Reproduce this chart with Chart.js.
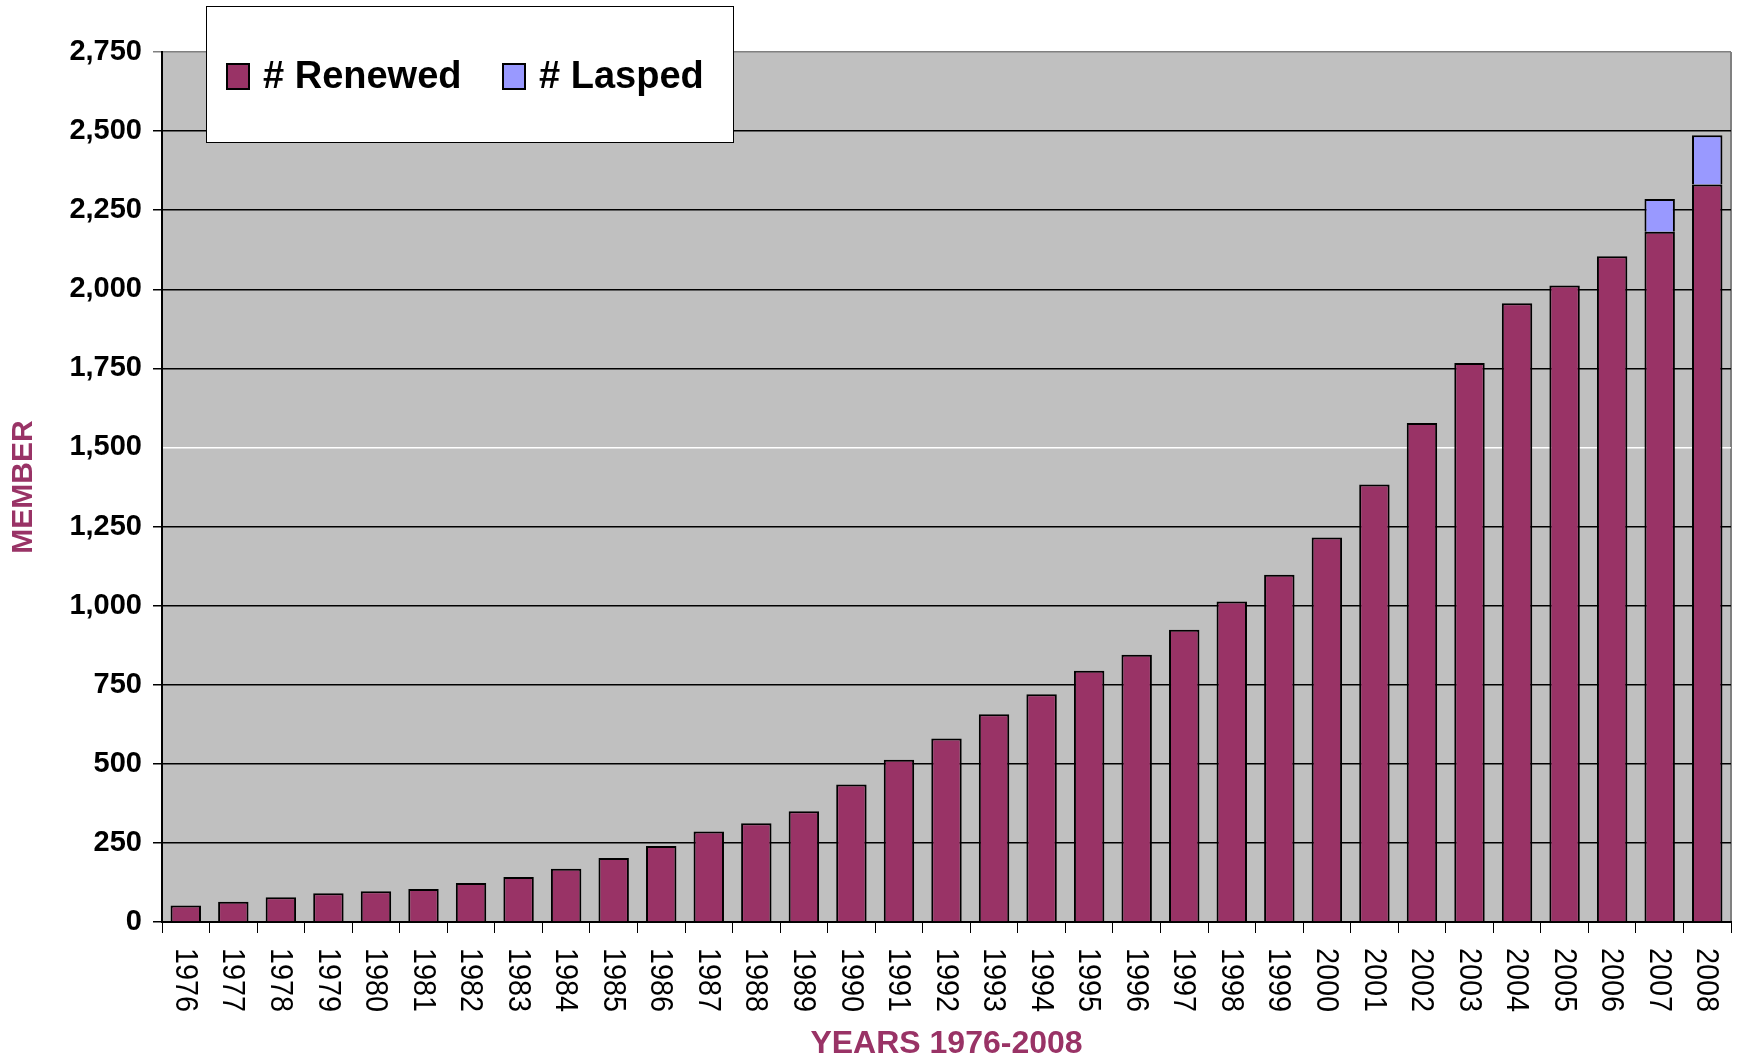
<!DOCTYPE html>
<html>
<head>
<meta charset="utf-8">
<script src="https://cdn.jsdelivr.net/npm/chart.js@4.4.1/dist/chart.umd.min.js"></script>
<style>
  html, body { margin: 0; padding: 0; background: #fff; }
  #wrap { width: 1742px; height: 1062px; }
</style>
</head>
<body>
<div id="wrap"><canvas id="chart1"></canvas></div>
<script>
// data
const years = ['1976', '1977', '1978', '1979', '1980', '1981', '1982', '1983', '1984', '1985',
    '1986', '1987', '1988', '1989', '1990', '1991', '1992', '1993', '1994', '1995',
    '1996', '1997', '1998', '1999', '2000', '2001', '2002', '2003', '2004', '2005',
    '2006', '2007', '2008'];
const renewed = [52, 64, 78, 91, 97, 104, 123, 142, 168, 202,
    240, 286, 312, 350, 435, 513, 580, 657, 720, 794,
    845, 924, 1013, 1098, 1215, 1383, 1577, 1767, 1956, 2012,
    2104, 2182, 2331];
const lapsed = [null, null, null, null, null, null, null, null, null, null,
    null, null, null, null, null, null, null, null, null, null,
    null, null, null, null, null, null, null, null, null, null,
    null, 103, 156];
const yMax = 2750;
const yStep = 250;

const FONT = '"Liberation Sans", Arial, sans-serif';
const TITLE_COLOR = '#993366';

// grey plot area + right frame
const plotBg = {
    id: 'plotBg',
    beforeDraw(chart) {
        const { ctx, chartArea: a } = chart;
        ctx.save();
        ctx.fillStyle = '#c0c0c0';
        ctx.fillRect(a.left, a.top, a.right - a.left, a.bottom - a.top);
        ctx.strokeStyle = '#808080';
        ctx.lineWidth = 2;
        ctx.beginPath();
        ctx.moveTo(a.right, a.top);
        ctx.lineTo(a.right, a.bottom);
        ctx.stroke();
        ctx.restore();
    }
};

// year labels, reading top to bottom (slightly squeezed like the original)
const yearLabels = {
    id: 'yearLabels',
    afterDraw(chart) {
        const { ctx } = chart;
        const x = chart.scales.x;
        ctx.save();
        ctx.font = '32px ' + FONT;
        ctx.fillStyle = '#000';
        ctx.textAlign = 'left';
        ctx.textBaseline = 'middle';
        chart.data.labels.forEach((lbl, i) => {
            const px = x.getPixelForTick(i);
            ctx.save();
            ctx.translate(px - 1, x.top + 26);
            ctx.rotate(Math.PI / 2);
            ctx.scale(0.9, 1);
            ctx.fillText(lbl, 0, 0);
            ctx.restore();
        });
        ctx.restore();
    }
};

// boxed legend sitting over the top of the plot
const boxLegend = {
    id: 'boxLegend',
    afterDraw(chart) {
        const { ctx } = chart;
        ctx.save();
        ctx.fillStyle = '#fff';
        ctx.fillRect(206, 6, 527, 136);
        ctx.strokeStyle = '#000';
        ctx.lineWidth = 1;
        ctx.strokeRect(206.5, 6.5, 527, 136);

        const swatchX = [227, 503];
        ctx.font = 'bold 38px ' + FONT;
        ctx.textBaseline = 'middle';
        ctx.textAlign = 'left';
        chart.data.datasets.forEach((ds, i) => {
            ctx.fillStyle = ds.backgroundColor;
            ctx.fillRect(swatchX[i], 64, 22, 25);
            ctx.lineWidth = 2;
            ctx.strokeStyle = '#000';
            ctx.strokeRect(swatchX[i], 64, 22, 25);
            ctx.fillStyle = '#000';
            ctx.fillText(ds.label, swatchX[i] + 36, 78);
        });
        ctx.restore();
    }
};

function gridColor(ctx) {
    const v = ctx.tick ? ctx.tick.value : null;
    if (v === yMax) return '#808080';
    if (v === 1500) return '#ffffff';
    return '#000000';
}

const ctx = document.getElementById('chart1').getContext('2d');
new Chart(ctx, {
    type: 'bar',
    data: {
        labels: years,
        datasets: [
            {
                label: '# Renewed',
                data: renewed,
                backgroundColor: '#993366',
                borderColor: '#000',
                borderWidth: 2,
                barPercentage: 0.64,
                categoryPercentage: 1
            },
            {
                label: '# Lasped',
                data: lapsed,
                backgroundColor: '#9999ff',
                borderColor: '#000',
                borderWidth: 2,
                barPercentage: 0.64,
                categoryPercentage: 1
            }
        ]
    },
    options: {
        responsive: true,
        maintainAspectRatio: false,
        devicePixelRatio: 1,
        animation: false,
        layout: { padding: { top: 52, right: 11, left: 0, bottom: 0 } },
        plugins: {
            legend: { display: false },
            tooltip: { enabled: false }
        },
        scales: {
            x: {
                stacked: true,
                grid: {
                    offset: true,
                    drawOnChartArea: false,
                    color: '#000',
                    tickLength: 11
                },
                border: { color: '#000', width: 2 },
                ticks: { display: false },
                title: {
                    display: true,
                    text: 'YEARS 1976-2008',
                    color: TITLE_COLOR,
                    font: { family: FONT, size: 32, weight: 'bold', lineHeight: 1.1 },
                    padding: { top: 0, bottom: 0 }
                },
                afterFit: (scale) => { scale.height = 140; }
            },
            y: {
                stacked: true,
                min: 0,
                max: yMax,
                grid: {
                    color: gridColor,
                    lineWidth: 1.5,
                    tickLength: 9
                },
                border: { color: '#000', width: 2 },
                ticks: {
                    stepSize: yStep,
                    padding: 11,
                    color: '#000',
                    font: { family: FONT, size: 29, weight: 'bold' },
                    callback: (v) => v.toLocaleString('en-US')
                },
                title: {
                    display: true,
                    text: 'MEMBER',
                    color: TITLE_COLOR,
                    font: { family: FONT, size: 30, weight: 'bold', lineHeight: 1.2 },
                    padding: { top: 6, bottom: 0 }
                },
                afterFit: (scale) => { scale.width = 162; }
            }
        }
    },
    plugins: [plotBg, yearLabels, boxLegend]
});
</script>
</body>
</html>
